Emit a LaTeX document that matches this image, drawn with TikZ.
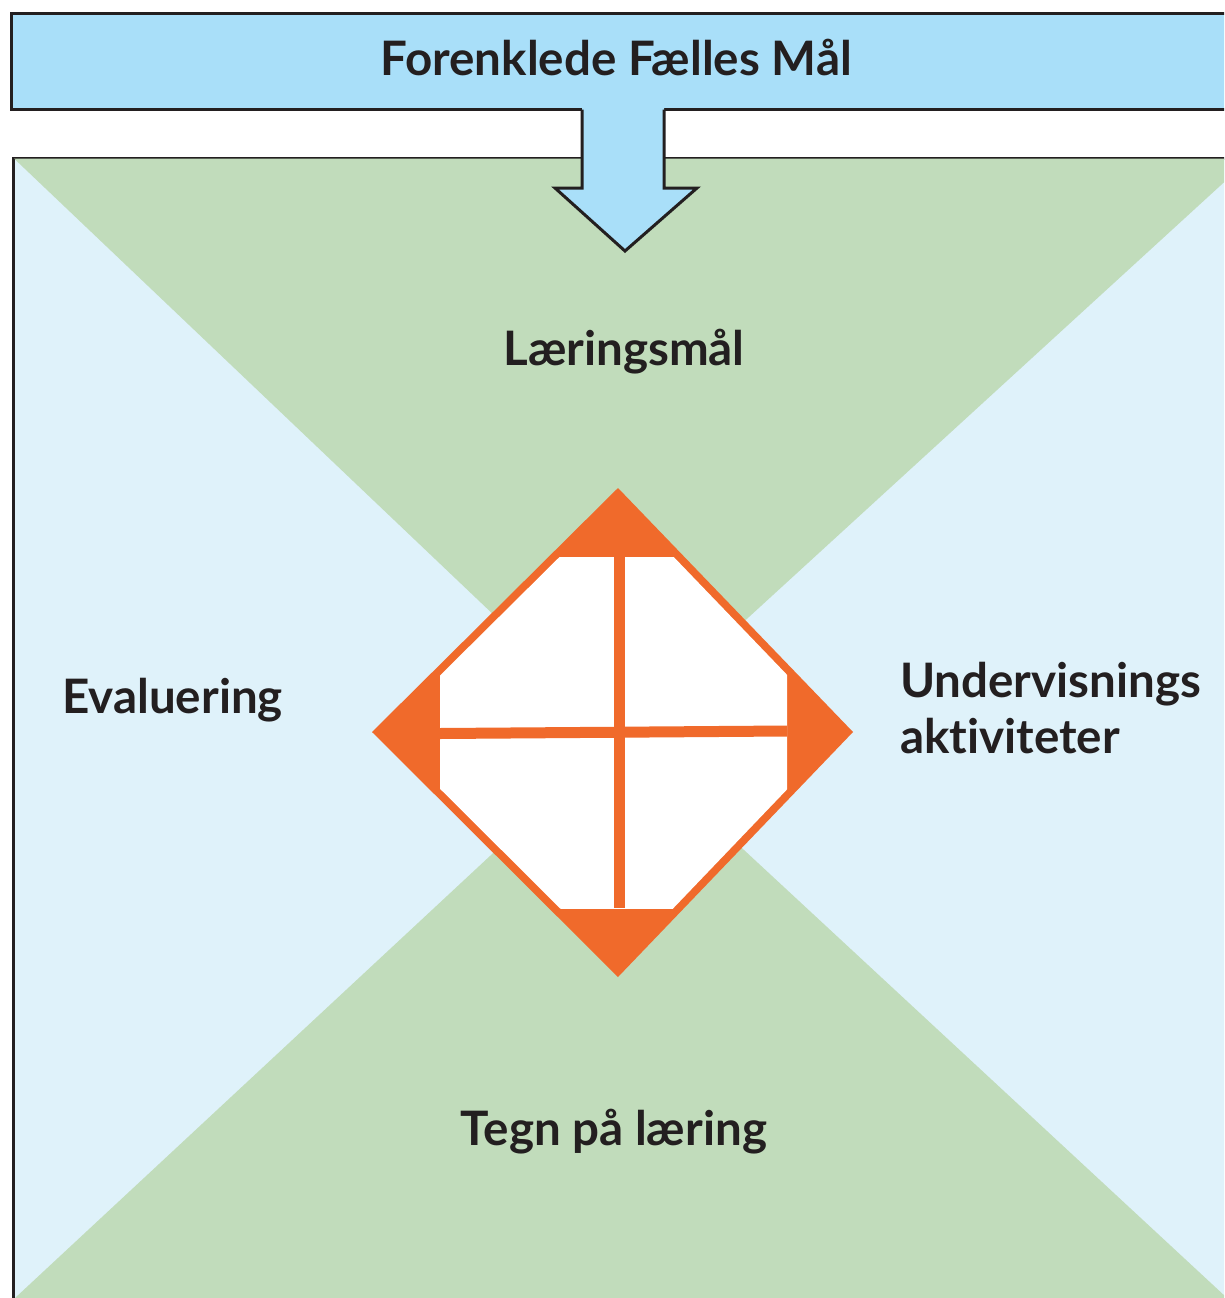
\documentclass[tikz,border=0pt]{standalone}
\usepackage{fontspec}
\setmainfont{Lato}[Ligatures=NoCommon]
\definecolor{bannerblue}{HTML}{A9DFF9}
\definecolor{paleblue}{HTML}{DFF2FA}
\definecolor{leafgreen}{HTML}{C1DCBB}
\definecolor{carrot}{HTML}{F06A2B}
\definecolor{ink}{HTML}{231F20}
\tikzset{
  outline/.style={draw=ink, line width=3pt},
  label/.style={font=\fontsize{47.5}{56}\selectfont\bfseries, text=ink, inner sep=0pt, anchor=base},
}
\begin{document}
\begin{tikzpicture}[x=1pt,y=-1pt]
\useasboundingbox (0,0) rectangle (1224,1298);
\clip (0,0) rectangle (1224,1298);
% banner
\node[outline, fill=bannerblue, rectangle, minimum width=1230pt, minimum height=96pt, anchor=north west, inner sep=0pt] (banner) at (10,12) {};
% main box
\node[outline, fill=paleblue, rectangle, minimum width=1240pt, minimum height=1160pt, anchor=north west, inner sep=0pt] (mainbox) at (11.5,157) {};
\coordinate (apex) at (620,735);
\fill[leafgreen] (14,158.5) -- (1250,158.5) -- (apex) -- cycle;
\fill[leafgreen] (15,1298) -- (1240,1310) -- (apex) -- cycle;
% arrow
\fill[bannerblue] (582,100) -- (582,188) -- (555,188) -- (625,251) -- (697,188) -- (664,188) -- (664,100) -- cycle;
\draw[draw=ink, line width=3pt, line join=miter] (582,109.5) -- (582,188) -- (555,188) -- (625,251) -- (697,188) -- (664,188) -- (664,109.5);
% diamond
\fill[carrot] (618,488) -- (853,732) -- (618,977) -- (372,732) -- cycle;
\begin{scope}
  \clip (440,557) rectangle (787,908);
  \fill[white] (618,499) -- (842,732) -- (618,966) -- (383,732) -- cycle;
\end{scope}
\draw[carrot, line width=11pt] (619.5,557) -- (619.5,908);
\draw[carrot, line width=11pt] (440,733.5) -- (787,731);
% labels
\node[label] (top) at (616,76) {Forenklede Fælles Mål};
\node[label] (goal) at (624,365) {Læringsmål};
\node[label, anchor=base west] (evalu) at (62,713) {Evaluering};
\node[label, anchor=base west] (teach) at (900,697) {Undervisnings};
\node[label, anchor=base west] (teach2) at (900,753) {aktiviteter};
\node[label] (signs) at (614,1145) {Tegn på læring};
\end{tikzpicture}
\end{document}
